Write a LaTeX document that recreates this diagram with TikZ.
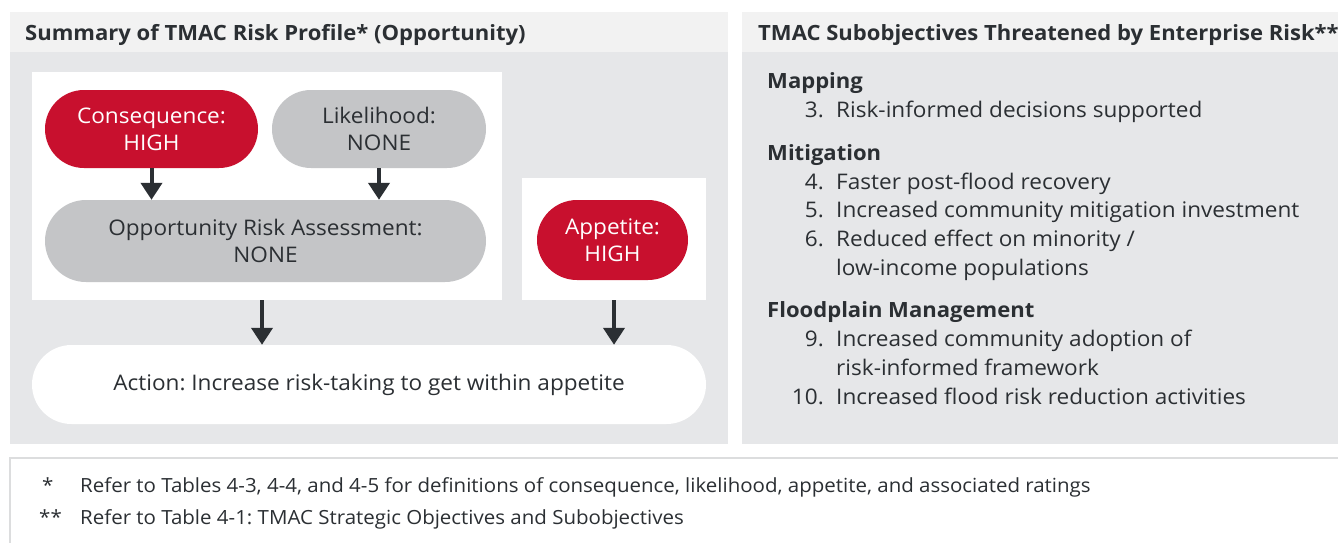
\documentclass[tikz,border=0pt]{standalone}
\usepackage{fontspec}
\setmainfont{Open Sans}[FakeStretch=1.05]
\usetikzlibrary{arrows.meta,positioning}

\definecolor{riskred}{HTML}{C8102E}
\definecolor{pillgray}{HTML}{C4C5C7}
\definecolor{panelgray}{HTML}{E6E7E9}
\definecolor{headgray}{HTML}{F2F2F2}
\definecolor{inkdark}{HTML}{2B2F33}
\definecolor{footline}{HTML}{DCDDDE}

\begin{document}
\frenchspacing
\begin{tikzpicture}[x=1pt,y=-1pt,text=inkdark,font=\fontsize{21.5}{27}\selectfont,
        pill/.style={rectangle, align=center, inner sep=0pt},
        red pill/.style={pill, fill=riskred, text=white},
        gray pill/.style={pill, fill=pillgray},
        white box/.style={rectangle, fill=white, inner sep=0pt},
        down arrow/.style={-{Triangle[width=21pt,length=17pt]}, line width=4pt, draw=inkdark},
        panel title/.style={anchor=base west, inner sep=0pt, font=\fontsize{21}{24}\selectfont\bfseries},
        group title/.style={anchor=base west, inner sep=0pt, font=\fontsize{21}{24}\selectfont\bfseries},
        item num/.style={anchor=base east, inner sep=0pt},
        item text/.style={anchor=base west, inner sep=0pt},
        note/.style={anchor=base west, inner sep=0pt, font=\fontsize{19.5}{22}\selectfont}]

            \useasboundingbox (0,0) rectangle (1338,542);

            % Panels

            \fill[headgray] (10,12) rectangle (728,52);
            \fill[panelgray] (10,52) rectangle (728,444);
            \fill[headgray] (742,12) rectangle (1350,52);
            \fill[panelgray] (742,52) rectangle (1350,444);
            \draw[footline, line width=2pt, fill=white] (10,458) rectangle (1350,560);

            \node[panel title] (lefttitle) at (25,40) {Summary of TMAC Risk Profile* (Opportunity)};
            \node[panel title] (righttitle) at (758,40) {TMAC Subobjectives Threatened by Enterprise Risk**};

            % Risk profile

            \node[white box, minimum width=470pt, minimum height=228pt] (assessbox) at (267,186) {};
            \node[white box, minimum width=184pt, minimum height=122pt] (appbox) at (614,239) {};

            \node[red pill, rounded corners=39pt, minimum width=213pt, minimum height=78pt] (cons) at (151.5,129) {Consequence:\\HIGH};
            \node[gray pill, rounded corners=39pt, minimum width=214pt, minimum height=78pt] (like) at (379,129) {Likelihood:\\NONE};
            \node[gray pill, rounded corners=41pt, minimum width=441pt, minimum height=82pt] (opp) at (265.5,241) {Opportunity Risk Assessment:\\NONE};
            \node[red pill, rounded corners=40pt, minimum width=151pt, minimum height=80pt] (app) at (612.5,240) {Appetite:\\HIGH};
            \node[pill, fill=white, rounded corners=39.5pt, minimum width=674pt, minimum height=79pt] (action) at (369,384.5) {Action: Increase risk-taking to get within appetite};

            \draw[down arrow] (cons.south) -- (cons.south |- opp.north);
            \draw[down arrow] (like.south) -- (like.south |- opp.north);
            \draw[down arrow] ([xshift=-5pt]assessbox.south) -- ([xshift=-5pt]assessbox.south |- action.north);
            \draw[down arrow] (appbox.south) -- (appbox.south |- action.north);

            % Subobjectives

            \node[group title] (mapping) at (767,88) {Mapping};
            \node[group title] (mitigation) at (767,160) {Mitigation};
            \node[group title] (floodplain) at (767,317) {Floodplain Management};

            \foreach \num/\txt/\yb [count=\i] in {
                3./Risk-informed decisions supported/117,
                4./Faster post-flood recovery/189,
                5./Increased community mitigation investment/217,
                6./{Reduced effect on minority /}/246,
                9./Increased community adoption of/346,
                10./Increased flood risk reduction activities/404} {
                \node[item num] (n\i) at (824,\yb) {\num};
                \node[item text] (t\i) at (836,\yb) {\txt};
            }
            \node[item text] (t4b) at (836,275) {low-income populations};
            \node[item text] (t5b) at (836,375) {risk-informed framework};

            % Notes

            \node[note] (star1) at (42,492) {*};
            \node[note] (note1) at (80,492) {Refer to Tables 4-3, 4-4, and 4-5 for definitions of consequence, likelihood, appetite, and associated ratings};
            \node[note] (star2) at (39,524) {**};
            \node[note] (note2) at (80,524) {Refer to Table 4-1: TMAC Strategic Objectives and Subobjectives};
        \end{tikzpicture}
\end{document}
